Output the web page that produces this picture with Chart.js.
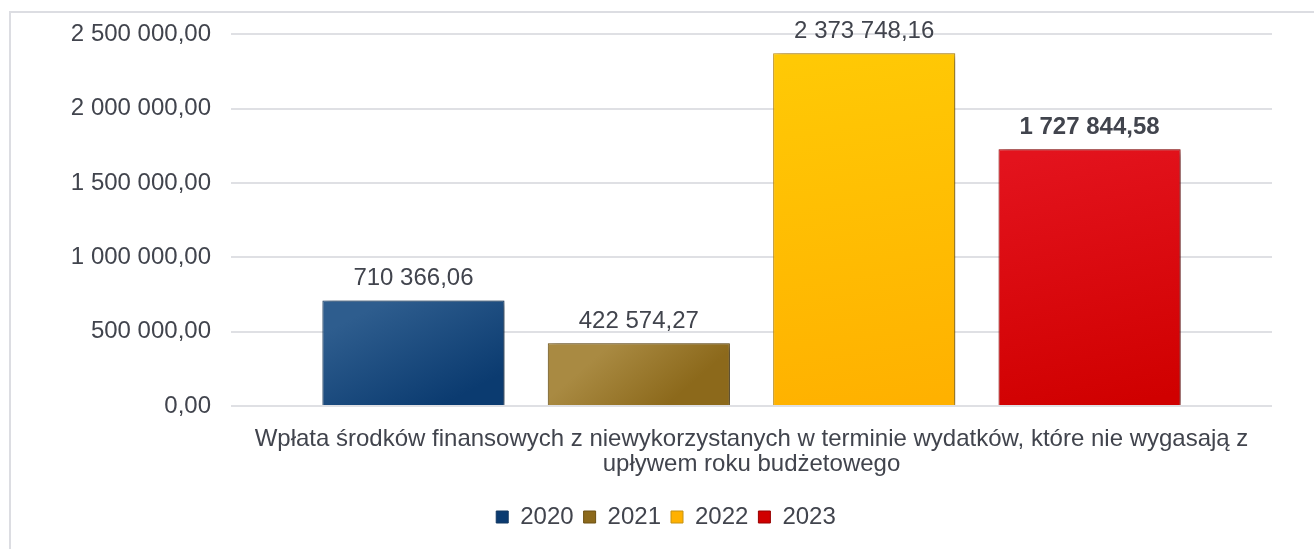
<!DOCTYPE html>
<html>
<head>
<meta charset="utf-8">
<script src="https://cdn.jsdelivr.net/npm/chart.js@4"></script>
<style>
  html, body { margin: 0; padding: 0; background: #ffffff; }
  #wrap { position: relative; width: 1314px; height: 549px; overflow: hidden; background: #ffffff; }
  #frame { position: absolute; left: 9px; top: 11px; width: 1400px; height: 600px;
           border-left: 2px solid #dcdde2; border-top: 2px solid #dcdde2; }
  #c { position: absolute; left: 0; top: 0; }
</style>
</head>
<body>
<div id="wrap">
  <div id="frame"></div>
  <canvas id="c" width="1314" height="549"></canvas>
</div>
<script>
// ---- data ----
const categoryLines = [
  'Wpłata środków finansowych z niewykorzystanych w terminie wydatków, które nie wygasają z',
  'upływem roku budżetowego'
];
const years = ['2020', '2021', '2022', '2023'];
const values = [710366.06, 422574.27, 2373748.16, 1727844.58];
const boldLabels = [false, false, false, true];
const yMin = 0, yMax = 2500000, yStep = 500000;

// ---- styles ----
const fillTop = ['#2e5d8e', '#a98a42', '#ffc905', '#e3131d'];
const fillBottom = ['#0b3b70', '#8c691b', '#ffb100', '#d00000'];
const borders = ['#123861', '#6c5012', '#c69213', '#980000'];
const textColor = '#41444d';
const fontFamily = '"Liberation Sans", Arial, sans-serif';
const catPct = 0.866, barPct = 0.808;

function fmt(v) {
  const s = v.toFixed(2).split('.');
  const int = s[0].replace(/\B(?=(\d{3})+(?!\d))/g, ' ');
  return int + ',' + s[1];
}

function makeFill(i) {
  return (c) => {
    const chart = c.chart;
    if (c.type !== 'data' || !chart.chartArea || !chart.scales.y || !chart.scales.x) return fillBottom[i];
    const ys = chart.scales.y, xs = chart.scales.x;
    const y0 = ys.getPixelForValue(c.raw);
    const y1 = ys.getPixelForValue(0);
    const catW = xs.width * catPct;
    const slot = catW / years.length;
    const cx = xs.getPixelForValue(0) - catW / 2 + slot * (i + 0.5);
    const q = slot * barPct * 0.15;
    const g = chart.ctx.createLinearGradient(cx - q, y0, cx + q, y1);
    g.addColorStop(0, fillTop[i]);
    g.addColorStop(1, fillBottom[i]);
    return g;
  };
}

const shadowPlugin = {
  id: 'barShadow',
  beforeDatasetDraw(chart) {
    const ctx = chart.ctx;
    ctx.save();
    ctx.shadowColor = 'rgba(0,0,0,0.5)';
    ctx.shadowBlur = 8;
    ctx.shadowOffsetX = 4;
    ctx.shadowOffsetY = 2;
  },
  afterDatasetDraw(chart) {
    chart.ctx.restore();
  }
};

const labelPlugin = {
  id: 'valueLabels',
  afterDatasetsDraw(chart) {
    const ctx = chart.ctx;
    chart.data.datasets.forEach((ds, i) => {
      const meta = chart.getDatasetMeta(i);
      meta.data.forEach((bar, j) => {
        ctx.save();
        ctx.font = (boldLabels[i] ? 'bold ' : '') + '24px ' + fontFamily;
        ctx.fillStyle = textColor;
        ctx.textAlign = 'center';
        ctx.textBaseline = 'alphabetic';
        ctx.fillText(fmt(ds.data[j]), bar.x, bar.y - 15);
        ctx.restore();
      });
    });
  }
};

Chart.defaults.font.family = fontFamily;
Chart.defaults.font.size = 24;
Chart.defaults.color = textColor;

new Chart(document.getElementById('c'), {
  type: 'bar',
  data: {
    labels: [categoryLines],
    datasets: years.map((y, i) => ({
      label: y,
      data: [values[i]],
      backgroundColor: makeFill(i),
      borderColor: borders[i],
      borderWidth: 1,
      categoryPercentage: catPct,
      barPercentage: barPct
    }))
  },
  plugins: [shadowPlugin, labelPlugin],
  options: {
    responsive: false,
    animation: false,
    layout: { padding: { left: 60, right: 42, top: 34, bottom: 10 } },
    scales: {
      x: {
        grid: { display: false },
        border: { display: false },
        ticks: { padding: 13, maxRotation: 0, autoSkip: false,
                 font: { size: 24, lineHeight: 1.05 }, color: textColor },
        afterFit(s) { s.height = 89; }
      },
      y: {
        min: yMin, max: yMax,
        grid: { color: '#dfe0e4', lineWidth: 2, drawTicks: false },
        border: { display: false },
        ticks: { stepSize: yStep, padding: 20, color: textColor, font: { size: 24 },
                 callback: (v) => fmt(v) },
        afterFit(s) { s.width = 171; }
      }
    },
    plugins: {
      legend: {
        position: 'bottom',
        labels: { boxWidth: 12, boxHeight: 12, padding: 10, color: textColor, font: { size: 24 } }
      },
      tooltip: { enabled: false }
    }
  }
});
</script>
</body>
</html>
